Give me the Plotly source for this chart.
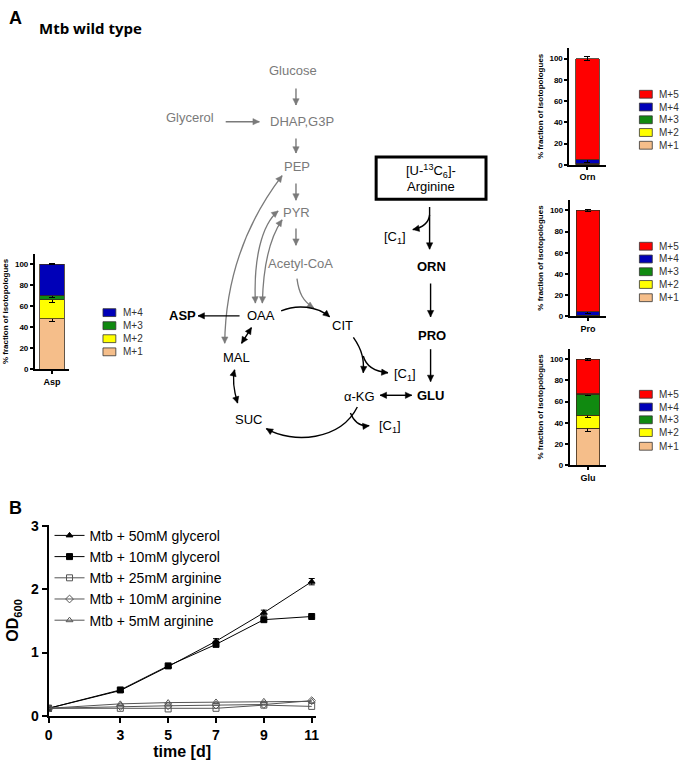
import math
import plotly.graph_objects as go

W, H = 683, 769

# ---------------- Panel B data ----------------
days = [0, 3, 5, 7, 9, 11]
od_gly50 = [0.12, 0.40, 0.78, 1.18, 1.63, 2.12]
od_gly50_err = [0.01, 0.02, 0.01, 0.04, 0.04, 0.05]
od_gly10 = [0.12, 0.41, 0.79, 1.13, 1.52, 1.57]
od_gly10_err = [0.01, 0.02, 0.01, 0.02, 0.02, 0.02]
od_arg25 = [0.12, 0.12, 0.11, 0.12, 0.17, 0.15]
od_arg10 = [0.12, 0.15, 0.16, 0.17, 0.18, 0.24]
od_arg5 = [0.12, 0.19, 0.21, 0.22, 0.23, 0.23]
series_names = ["Mtb + 50mM glycerol", "Mtb + 10mM glycerol", "Mtb + 25mM arginine",
                "Mtb + 10mM arginine", "Mtb + 5mM arginine"]
day_ticks = [0, 3, 5, 7, 9, 11]
od_ticks = [0, 1, 2, 3]

# ---------------- Panel A isotopologue data ----------------
iso_labels = ["M+1", "M+2", "M+3", "M+4", "M+5"]
iso_colors = ["#F5BE8A", "#FFFF00", "#108A10", "#0000B8", "#FF0000"]
asp_frac = [48, 18, 4, 30]
asp_err = [2.5, 2.5, 2.0, 0.5]
orn_frac = [0.4, 0.2, 0.3, 3.8, 95.3]
orn_err = [0, 0, 0, 2.5, 2.0]
pro_frac = [0.3, 0.2, 0.3, 3.5, 95.7]
pro_err = [0, 0, 0, 1.5, 1.0]
glu_frac = [35, 12, 20, 0.3, 32.7]
glu_err = [3.0, 2.5, 1.0, 0, 1.0]
pct_ticks = [0, 20, 40, 60, 80, 100]

FONT = "Liberation Sans"

def X(x):
    return x / W

def Y(y):
    return 1 - y / H

def dom_x(a, b):
    return [a / W, b / W]

def dom_y(top, bottom):
    return [1 - bottom / H, 1 - top / H]

fig = go.Figure()

# ---------------- Line chart ----------------
line_specs = [
    (od_gly50, od_gly50_err, "triangle-up", "black"),
    (od_gly10, od_gly10_err, "square", "black"),
    (od_arg25, None, "square-open", "#555555"),
    (od_arg10, None, "diamond-open", "#555555"),
    (od_arg5, None, "triangle-up-open", "#555555"),
]
for name, (vals, err, sym, col) in zip(series_names, line_specs):
    tr = dict(x=days, y=vals, name=name, mode="lines+markers",
              line=dict(color=col, width=1),
              marker=dict(symbol=sym, size=6, color=col, line=dict(color=col, width=1)),
              xaxis="x", yaxis="y", legend="legend")
    if err is not None:
        tr["error_y"] = dict(type="data", array=err, visible=True, color="black",
                             thickness=1, width=3)
    fig.add_trace(go.Scatter(**tr))

# ---------------- Stacked bar charts ----------------
bar_charts = [
    ("Asp", asp_frac, asp_err, "x2", "y2", dom_x(31, 66), dom_y(251.7, 369.3), 0.7),
    ("Orn", orn_frac, orn_err, "x3", "y3", dom_x(571, 608), dom_y(41.7, 161), 0.65),
    ("Pro", pro_frac, pro_err, "x4", "y4", dom_x(571.5, 608.5), dom_y(196.7, 315.3), 0.65),
    ("Glu", glu_frac, glu_err, "x5", "y5", dom_x(571.5, 608.5), dom_y(348.3, 467.3), 0.65),
]
for cat, fr, er, xa, ya, dx_, dy_, bw in bar_charts:
    for i, (v, e) in enumerate(zip(fr, er)):
        tr = dict(x=[cat], y=[v], name=iso_labels[i], xaxis=xa, yaxis=ya, width=bw,
                  marker=dict(color=iso_colors[i], line=dict(color="#3a2a1a", width=0.8)),
                  showlegend=False)
        if e > 0:
            tr["error_y"] = dict(type="data", array=[e], visible=True, color="black",
                                 thickness=1, width=3)
        fig.add_trace(go.Bar(**tr))

axis_common = dict(showgrid=False, zeroline=False, showline=True, linecolor="black",
                   ticks="outside", tickcolor="black")

layout = dict(
    width=W, height=H, margin=dict(l=0, r=0, t=0, b=0),
    plot_bgcolor="white", paper_bgcolor="white", barmode="stack",
    font=dict(family=FONT, color="black"),
    xaxis=dict(domain=dom_x(45, 315), range=[0, 11.17], tickvals=day_ticks,
               linewidth=2, tickwidth=2, ticklen=5, anchor="y",
               tickfont=dict(size=14, weight="bold"),
               title=dict(text="<b>time [d]</b>", font=dict(size=16), standoff=4),
               **axis_common),
    yaxis=dict(domain=dom_y(528, 723), range=[0, 3.02], tickvals=od_ticks,
               linewidth=2, tickwidth=2, ticklen=5, anchor="x",
               tickfont=dict(size=14, weight="bold"),
               title=dict(text="<b>OD<sub>600</sub></b>", font=dict(size=16), standoff=8),
               **axis_common),
    legend=dict(x=X(46), y=Y(523), xanchor="left", yanchor="top",
                font=dict(size=14, family=FONT), bgcolor="rgba(0,0,0,0)",
                tracegroupgap=0, itemwidth=30, traceorder="normal"),
)
for k, (cat, fr, er, xa, ya, dx_, dy_, bw) in enumerate(bar_charts):
    n = xa[1:]
    layout["xaxis" + n] = dict(domain=dx_, range=[-0.5, 0.5], anchor="y" + n, type="category",
                               linewidth=1.5, tickwidth=1.5, ticklen=3,
                               tickfont=dict(size=9, weight="bold"), **axis_common)
    layout["yaxis" + n] = dict(domain=dy_, range=[0, 110], anchor="x" + n, tickvals=pct_ticks,
                               linewidth=1.5, tickwidth=1.5, ticklen=3,
                               tickfont=dict(size=8, weight="bold"),
                               title=dict(text="<b>% fraction of isotopologues</b>",
                                          font=dict(size=8), standoff=5),
                               **axis_common)
fig.update_layout(**layout)

# ---------------- Diagram helpers ----------------
shapes = []
annotations = []

def text(x, y, s, size=13, color="black", bold=False, anchor="center", family=FONT):
    annotations.append(dict(x=X(x), y=Y(y), xref="paper", yref="paper", text=s,
                            showarrow=False, xanchor=anchor, yanchor="middle",
                            font=dict(size=size, color=color, family=family,
                                      weight="bold" if bold else "normal")))

def head(tip, frm, color, L=6.5, hw=3.2):
    dx, dy = tip[0] - frm[0], tip[1] - frm[1]
    d = math.hypot(dx, dy) or 1
    ux, uy = dx / d, dy / d
    bx, by = tip[0] - ux * L, tip[1] - uy * L
    nx, ny = -uy * hw, ux * hw
    p = f"M{X(tip[0])},{Y(tip[1])} L{X(bx + nx)},{Y(by + ny)} L{X(bx - nx)},{Y(by - ny)} Z"
    shapes.append(dict(type="path", path=p, xref="paper", yref="paper",
                       fillcolor=color, line=dict(color=color, width=0.5)))

def arrow(p0, p1, color="black", w=1.4, end=True, start=False):
    shapes.append(dict(type="line", x0=X(p0[0]), y0=Y(p0[1]), x1=X(p1[0]), y1=Y(p1[1]),
                       xref="paper", yref="paper", line=dict(color=color, width=w)))
    if end:
        head(p1, p0, color)
    if start:
        head(p0, p1, color)

def curve(p0, c1, c2, p1, color="black", w=1.4, end=True, start=False):
    p = (f"M{X(p0[0])},{Y(p0[1])} C{X(c1[0])},{Y(c1[1])} "
         f"{X(c2[0])},{Y(c2[1])} {X(p1[0])},{Y(p1[1])}")
    shapes.append(dict(type="path", path=p, xref="paper", yref="paper",
                       line=dict(color=color, width=w)))
    if end:
        head(p1, c2, color)
    if start:
        head(p0, c1, color)

GRAY = "#7a7a7a"

# panel labels
text(3, 11, "A", size=18, bold=True, anchor="left")
text(33, 21, "Mtb wild type", size=15, bold=True, anchor="left", family="Open Sans")
text(3, 511, "B", size=18, bold=True, anchor="left")

# gray upper pathway
text(292, 65, "Glucose", color=GRAY)
arrow((295, 83), (295, 100), GRAY)
text(188, 113, "Glycerol", color=GRAY)
arrow((224, 117), (258, 117), GRAY)
text(301, 117, "DHAP,G3P", color=GRAY)
arrow((295, 134), (295, 149), GRAY)
text(296, 163, "PEP", color=GRAY)
arrow((295, 180), (295, 197), GRAY)
text(296, 210, "PYR", color=GRAY)
arrow((295, 226), (295, 243), GRAY)
text(300, 262, "Acetyl-CoA", color=GRAY)
curve((296, 277), (298, 292), (302, 300), (313, 307), GRAY, w=1.3)
curve((281, 172), (256, 205), (224, 262), (223, 343), GRAY, w=1.3, start=True)
curve((277, 208), (260, 222), (252, 258), (254, 302), GRAY, w=1.3, start=True)
curve((281, 217), (270, 233), (262, 262), (261, 302), GRAY, w=1.3, start=True)

# TCA cycle
text(180, 315, "ASP", bold=True)
arrow((238, 315), (196, 315))
text(259.5, 315, "OAA")
curve((280, 310), (296, 303), (316, 305), (329, 316))
text(342, 325, "CIT")
curve((353, 337), (362, 350), (364, 360), (363, 373))
curve((363, 356), (366, 367), (375, 372), (388, 373))
text(392, 375, "[C<sub>1</sub>]", anchor="left")
text(359, 397, "α-KG")
arrow((380, 396), (412, 396), start=True)
text(431, 396, "GLU", bold=True)
curve((357, 408), (340, 442), (292, 446), (265, 430))
curve((350, 414), (354, 424), (360, 428), (369, 427))
text(377, 428, "[C<sub>1</sub>]", anchor="left")
curve((233, 370), (230, 382), (233, 394), (236, 404), start=True)
arrow((250, 327), (240, 343), start=True)
text(235, 357, "MAL")
text(247, 421, "SUC")

# arginine branch
shapes.append(dict(type="rect", x0=X(376), y0=Y(153), x1=X(487), y1=Y(196),
                   xref="paper", yref="paper", line=dict(color="black", width=3)))
text(431, 167, "[U-<sup>13</sup>C<sub>6</sub>]-")
text(431, 183, "Arginine")
arrow((430, 204), (430, 247))
curve((430, 212), (429, 221), (423, 225), (413, 227))
text(382, 235, "[C<sub>1</sub>]", anchor="left")
text(432, 265, "ORN", bold=True)
arrow((431, 282), (431, 316))
text(432, 335, "PRO", bold=True)
arrow((431, 349), (431, 382))

# custom isotopologue legends (swatch + label)
legend_specs = [
    (100, [311.7, 325, 338.3, 351.7], [3, 2, 1, 0]),
    (642, [89, 102, 115, 128, 141], [4, 3, 2, 1, 0]),
    (642, [244, 257, 270, 283, 296.5], [4, 3, 2, 1, 0]),
    (642, [395, 408, 421, 434, 448], [4, 3, 2, 1, 0]),
]
for x0, ys, idxs in legend_specs:
    for yy, i in zip(ys, idxs):
        shapes.append(dict(type="rect", x0=X(x0), x1=X(x0 + 13), y0=Y(yy - 4), y1=Y(yy + 4),
                           xref="paper", yref="paper", fillcolor=iso_colors[i],
                           line=dict(color="#333333", width=0.8)))
        text(x0 + 18, yy, iso_labels[i], size=10, color="#333333", anchor="left")

fig.update_layout(shapes=shapes, annotations=annotations)
fig.write_html("out.html", config={"displayModeBar": False},
               post_script="document.body.style.margin='0';document.body.style.overflow='hidden';")
